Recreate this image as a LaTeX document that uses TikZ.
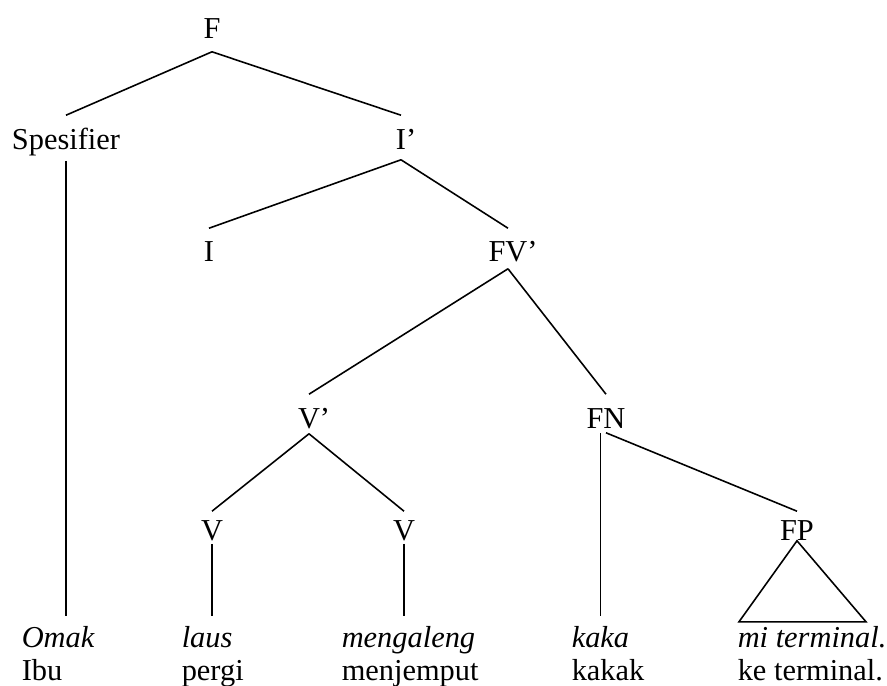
\documentclass[tikz,border=0pt]{standalone}
\usepackage{fontspec}
\setmainfont{Liberation Serif}
\usepackage{tikz}

\tikzset{
  cat/.style={anchor=base, inner sep=0pt, text height=0.66cm, text depth=0.1cm},
  word/.style={anchor=base west, inner sep=0pt, text height=0.6cm, text depth=0pt},
}

\begin{document}
\begin{tikzpicture}[x=0.02cm, y=-0.02cm, line width=0.9pt,
    every node/.style={font=\fontsize{17.3}{18.7}\selectfont}]
  \useasboundingbox (0,0) rectangle (887,686);
  % categories
  \node[cat, text depth=0.24cm] (f) at (212,39) {F};
  \node[cat, text height=0.68cm, text depth=0.2cm] (spes) at (66,150) {Spesifier};
  \node[cat, text height=0.68cm, text depth=0.18cm] (ibar) at (401,150) {I\rlap{’}};
  \node[cat] (i) at (209,262) {I};
  \node[cat, text depth=0.12cm] (fvbar) at (508,262) {FV\rlap{’}};
  \node[cat] (vbar) at (309,428) {V\rlap{’}};
  \node[cat, text depth=0.08cm] (fn) at (606,428) {FN};
  \node[cat, text height=0.56cm, text depth=0.06cm] (v1) at (212,540) {V};
  \node[cat, text height=0.56cm, text depth=0.06cm] (v2) at (404,540) {V};
  \node[cat, text height=0.56cm, text depth=0pt] (fp) at (797,540) {FP};
  % words, gloss below
  \node[word] (omak) at (21,647) {\textit{Omak}};
  \node[word] (ibu) at (21,680) {Ibu};
  \node[word] (laus) at (181,647) {\textit{laus}};
  \node[word] (pergi) at (181,680) {pergi};
  \node[word] (mengaleng) at (341,647) {\textit{mengaleng}};
  \node[word] (menjemput) at (341,680) {menjemput};
  \node[word] (kaka) at (571,647) {\textit{kaka}};
  \node[word] (kakak) at (571,680) {kakak};
  \node[word] (miterm) at (737,647) {\textit{mi terminal.}};
  \node[word] (keterm) at (737,680) {ke terminal.};
  % branches
  \draw (f.south) -- (spes.north);
  \draw (f.south) -- (ibar.north);
  \draw (spes.south) -- (spes.south |- omak.north);
  \draw (ibar.south) -- (i.north);
  \draw (ibar.south) -- (fvbar.north);
  \draw (fvbar.south) -- (vbar.north);
  \draw (fvbar.south) -- (fn.north);
  \draw (vbar.south) -- (v1.north);
  \draw (vbar.south) -- (v2.north);
  \draw (v1.south) -- (v1.south |- laus.north);
  \draw (v2.south) -- (v2.south |- mengaleng.north);
  \draw ([xshift=-0.11cm]fn.south) -- ([xshift=-0.11cm]fn.south |- kaka.north);
  \draw (fn.south) -- (fp.north);
  \draw (fp.south) -- ++(-58,81) -- ++(127,0) -- cycle;
\end{tikzpicture}
\end{document}
